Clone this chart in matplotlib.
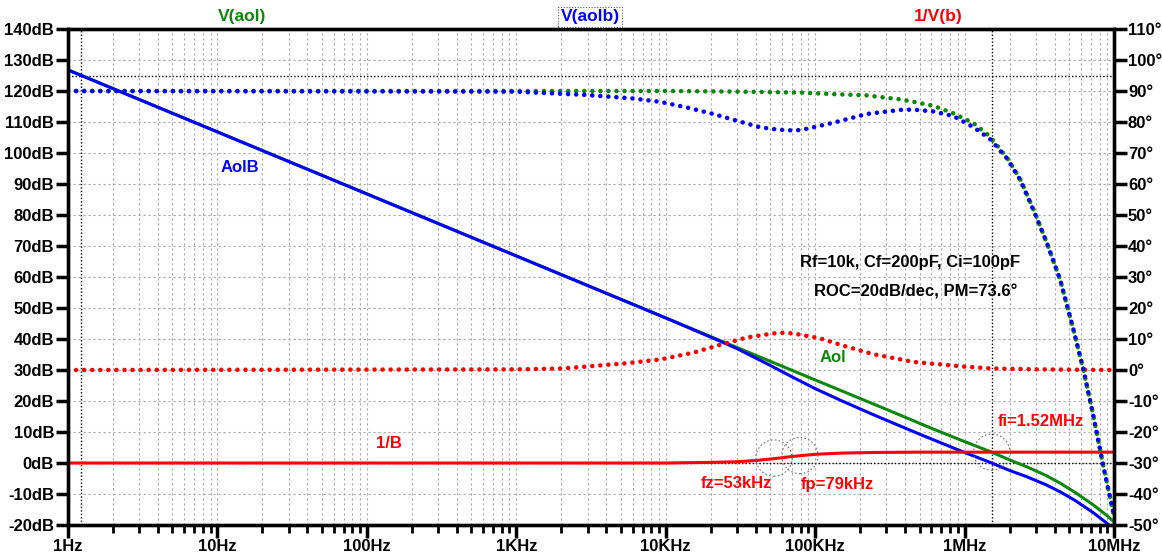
import matplotlib
matplotlib.use("Agg")
import matplotlib.pyplot as plt
from matplotlib.ticker import FixedLocator, NullFormatter

plt.rcParams["font.family"] = ["Liberation Sans", "DejaVu Sans"]
plt.rcParams["font.weight"] = "bold"

W, H = 1162, 556

# ---- data (frequency in Hz) ----
# magnitude, dB (left axis)
aol_f = [1, 1e4, 1e5, 3e5, 6e5, 1e6, 1.52e6, 2e6, 2.6e6, 3.5e6, 4.4e6, 5.5e6, 7.3e6, 9e6, 1e7]
aol_db = [126.8, 46.8, 26.8, 17.3, 11.2, 6.9, 3.5, 1.0, -1.2, -4.0, -6.6, -9.5, -13.6, -17.0, -19.0]

aolb_f = [1, 1e4, 2e4, 3e4, 5e4, 7e4, 1e5, 1.5e5, 2.5e5, 5e5, 1e6, 1.52e6, 2e6, 2.6e6,
          3.5e6, 4.4e6, 5.5e6, 7.3e6, 9e6, 1e7]
aolb_db = [126.8, 46.8, 40.6, 36.9, 31.5, 27.8, 24.0, 20.1, 15.4, 9.3, 3.4, 0.0, -2.4, -4.4,
           -7.0, -9.4, -12.1, -16.1, -19.5, -21.3]

inv_b_f = [1, 1e4, 2e4, 3e4, 4e4, 5.3e4, 7e4, 1e5, 1.5e5, 2.5e5, 5e5, 1e6, 1e7]
inv_b_db = [0, 0, 0.2, 0.4, 0.8, 1.4, 2.1, 2.8, 3.2, 3.4, 3.5, 3.5, 3.5]

# phase, degrees (right axis)
aol_ph_f = [1, 1e4, 3e4, 8e4, 1.3e5, 2.2e5, 3.7e5, 4.7e5, 6.2e5, 8.4e5, 1.15e6, 1.48e6,
            1.92e6, 2.36e6, 2.89e6, 3.56e6, 4.37e6, 5.36e6, 6.25e6, 7.29e6, 8.5e6, 1e7]
aol_ph = [90, 90, 89.8, 89.5, 89.0, 88.6, 87.3, 86.4, 85.2, 82.8, 79.6, 75.3,
          68.5, 61.5, 51.8, 40.9, 29.0, 12.9, 0.0, -15.0, -31.2, -47.0]

aolb_ph_f = [1, 1e3, 3e3, 6e3, 9.2e3, 1.38e4, 2.08e4, 3.15e4, 4.28e4, 5.5e4, 6.6e4, 8e4,
             9.75e4, 1.33e5, 2.22e5, 3.71e5, 4.54e5, 6.19e5, 8.43e5, 1.15e6, 1.48e6,
             1.92e6, 2.36e6, 2.89e6, 3.56e6, 4.37e6, 5.36e6, 6.25e6, 7.29e6, 8.5e6, 1e7]
aolb_ph = [90, 89.8, 88.7, 87.6, 86.5, 84.7, 82.6, 80.1, 78.3, 77.6, 77.3, 77.4,
           78.3, 79.8, 82.6, 83.9, 84.0, 83.4, 81.9, 78.3, 74.5,
           68.3, 61.3, 51.6, 40.9, 29.0, 12.9, 0.0, -15.0, -31.2, -47.0]

inv_b_ph_f = [1, 1e3, 2.07e3, 5.5e3, 9.2e3, 1.53e4, 2.31e4, 3.49e4, 5.26e4, 6.1e4, 7.16e4,
              1.08e5, 1.63e5, 2.45e5, 4.55e5, 1e6, 1.52e6, 3e6, 1e7]
inv_b_ph = [0, 0.2, 0.5, 2.2, 3.4, 5.6, 8.1, 10.5, 11.8, 12.0, 11.8,
            10.2, 7.5, 5.1, 2.6, 1.1, 0.5, 0.2, 0]

# cursors and marked frequencies
cursor_f = [1.22, 1.52e6]
cursor_db = [124.8, 0.0]
circle_f = [53e3, 79e3, 1.52e6]
circle_db = [1.6, 2.4, 3.5]

x_ticks = [1, 10, 100, 1e3, 1e4, 1e5, 1e6, 1e7]
x_labels = ["1Hz", "10Hz", "100Hz", "1KHz", "10KHz", "100KHz", "1MHz", "10MHz"]
db_ticks = list(range(-20, 141, 10))
ph_ticks = list(range(-50, 111, 10))

GREEN = "#0b870b"
BLUE = "#0000ff"
RED = "#ff0000"


def px(x, y):
    return x / W, 1 - y / H


fig = plt.figure(figsize=(W / 100, H / 100), dpi=100)
ax = fig.add_axes([68 / W, 1 - 525 / H, (1114 - 68) / W, (525 - 29) / H])
ax.set_xscale("log")
ax.set_xlim(1, 1e7)
ax.set_ylim(-20, 140)

ax2 = ax.twinx()
ax2.set_ylim(-50, 110)

# grid
grid_kw = dict(color="#a8a8a8", linestyle=(0, (2, 2.5)), linewidth=0.8)
ax.grid(which="major", axis="both", **grid_kw)
ax.grid(which="minor", axis="x", **grid_kw)
ax.set_axisbelow(True)

# ticks
ax.xaxis.set_major_locator(FixedLocator(x_ticks))
ax.set_xticklabels(x_labels)
ax.xaxis.set_minor_locator(FixedLocator([m * 10 ** d for d in range(7) for m in range(2, 10)]))
ax.xaxis.set_minor_formatter(NullFormatter())
ax.set_yticks(db_ticks)
ax.set_yticklabels([f"{v}dB" for v in db_ticks])
ax2.set_yticks(ph_ticks)
ax2.set_yticklabels([f"{v}°" for v in ph_ticks])

ax.tick_params(axis="both", which="major", length=9, width=2.5, direction="out",
               labelsize=12, pad=1)
ax.tick_params(axis="x", which="minor", length=6, width=2, direction="out")
ax2.tick_params(axis="y", which="major", length=9, width=2.5, direction="out",
                labelsize=12, pad=1)
for a in (ax, ax2):
    for s in a.spines.values():
        s.set_linewidth(2.4)

# cursors
for f in cursor_f:
    ax.axvline(f, color="black", linestyle=(0, (1, 1.5)), linewidth=1, zorder=1.5)
for d in cursor_db:
    ax.axhline(d, color="black", linestyle=(0, (1, 1.5)), linewidth=1, zorder=1.5)

# magnitude curves
ax.plot(aol_f, aol_db, color=GREEN, linewidth=2.2, zorder=3)
ax.plot(aolb_f, aolb_db, color=BLUE, linewidth=2.2, zorder=3)
ax.plot(inv_b_f, inv_b_db, color=RED, linewidth=2.2, zorder=4)

# phase curves, drawn as dots
dot_kw = dict(linestyle=(0, (0.01, 1.75)), dash_capstyle="round", linewidth=3.3)
ax2.plot(inv_b_ph_f, inv_b_ph, color=RED, **dot_kw)
ax2.plot(aol_ph_f, aol_ph, color=GREEN, **dot_kw)
ax2.plot(aolb_ph_f, aolb_ph, color=BLUE, **dot_kw)

# dotted circles around the marked points
ax.scatter(circle_f, circle_db, s=680, facecolors="none", edgecolors="#777777",
           linewidths=0.8, linestyles=(0, (1.5, 2)), zorder=5)

# trace names on top
fig.text(*px(242, 16), "V(aol)", color=GREEN, fontsize=12.5, ha="center", va="center")
fig.text(*px(590, 17), "V(aolb)", color=BLUE, fontsize=12.5, ha="center", va="center",
         bbox=dict(boxstyle="square,pad=0.12", fc="white", ec="#555555",
                   linestyle=(0, (1, 1.5)), linewidth=0.8))
fig.text(*px(938, 16), "1/V(b)", color=RED, fontsize=12.5, ha="center", va="center")

# annotations
txt_kw = dict(fontsize=12, ha="center", va="center")
fig.text(*px(240, 168), "AolB", color=BLUE, **txt_kw)
fig.text(*px(833, 358), "Aol", color=GREEN, **txt_kw)
fig.text(*px(389, 443), "1/B", color=RED, **txt_kw)
fig.text(*px(1041, 422), "fi=1.52MHz", color=RED, **txt_kw)
fig.text(*px(736, 484), "fz=53kHz", color=RED, **txt_kw)
fig.text(*px(837, 484), "fp=79kHz", color=RED, **txt_kw)
fig.text(*px(910, 262), "Rf=10k, Cf=200pF, Ci=100pF", color="black", **txt_kw)
fig.text(*px(916, 292), "ROC=20dB/dec, PM=73.6°", color="black", **txt_kw)

fig.savefig("out.png", dpi=100)
